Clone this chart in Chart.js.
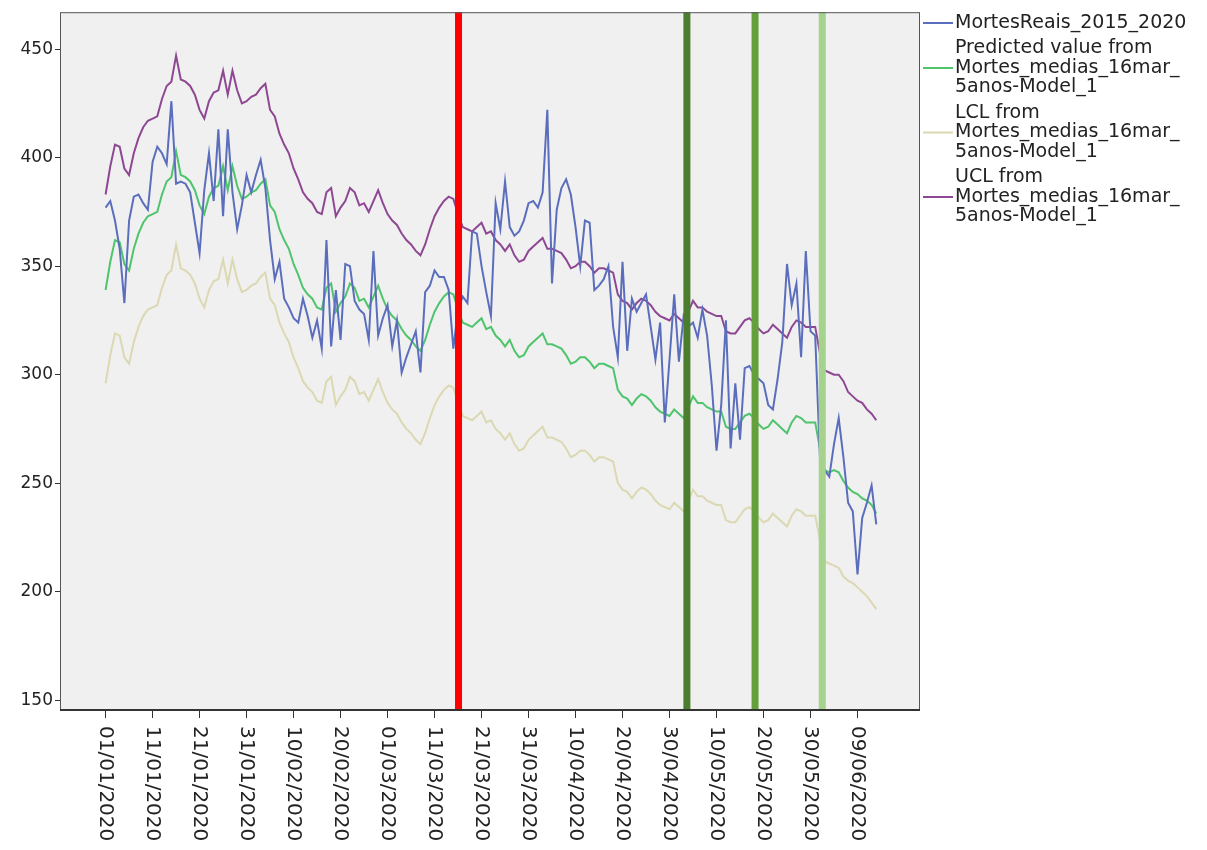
<!DOCTYPE html>
<html>
<head>
<meta charset="utf-8">
<script src="https://cdn.jsdelivr.net/npm/chart.js@4.4.0/dist/chart.umd.min.js"></script>
<style>
  body { margin: 0; background: #fff; }
  canvas { display: block; }
</style>
</head>
<body>
<canvas id="chart" width="1207" height="850"></canvas>
<script>
// daily values, day 0 = 01/01/2020
const seriesActual = [
  377, 380, 371, 358, 333, 371, 382, 383, 379, 376,
  398, 405, 402, 397, 426, 388, 389, 388, 384, 370,
  356, 385, 402, 380, 413, 373, 413, 384, 367, 378,
  392, 384, 392, 399, 386, 362, 344, 352, 335, 331,
  326, 324, 335, 327, 317, 325, 312, 362, 313, 339,
  316, 351, 350, 334, 330, 328, 316, 357, 318, 326,
  332, 313, 325, 301, 308, 314, 320, 301, 338, 341,
  348, 345, 345, 339, 312, 330, 336, 333, 366, 365,
  350, 338, 327, 379, 367, 389, 368, 364, 366, 371,
  379, 380, 377, 384, 422, 342, 376, 386, 390, 383,
  368, 350, 371, 370, 339, 341, 344, 350, 322, 308,
  352, 311, 335, 329, 333, 337, 322, 307, 324, 278,
  307, 337, 306, 327, 322, 324, 317, 330, 318, 295,
  265, 286, 325, 266, 296, 270, 303, 304, 300, 298,
  296, 286, 284, 298, 315, 351, 332, 342, 308, 357,
  320, 318, 262, 256, 253, 268, 280, 262, 241, 237,
  208, 234, 241, 249, 231
];
const seriesPredicted = [
  339, 352, 362, 361, 351, 348, 358, 365, 370, 373,
  374, 375, 383, 389, 391, 403, 392, 391, 389, 385,
  378, 374, 382, 386, 387, 396, 385, 396, 387, 381,
  382, 384, 385, 388, 390, 378, 375, 367, 362, 358,
  351, 346, 340, 337, 335, 331, 330, 340, 342, 329,
  333, 336, 342, 340, 334, 335, 331, 336, 341, 335,
  330, 327, 325, 321, 318, 316, 313, 311, 316, 323,
  329, 333, 336, 338, 337, 330, 324, 323, 322, 324,
  326, 321, 322, 318, 316, 313, 316, 311, 308, 309,
  313, 315, 317, 319, 314, 314, 313, 312, 309, 305,
  306, 308, 308, 306, 303, 305, 305, 304, 303, 293,
  290, 289, 286, 289, 291, 290, 288, 285, 283, 282,
  281, 284, 282, 280, 285, 290, 287, 287, 285, 284,
  283, 283, 276, 275, 275, 278, 281, 282, 280, 277,
  275, 276, 279, 277, 275, 273, 278, 281, 280, 278,
  278, 278, 266, 256, 255, 256, 255, 251, 248, 246,
  245, 243, 242, 240, 236
];
const seriesLCL = [
  296, 309, 319, 318, 308, 305, 315, 322, 327, 330,
  331, 332, 340, 346, 348, 360, 349, 348, 346, 342,
  335, 331, 339, 343, 344, 353, 342, 353, 344, 338,
  339, 341, 342, 345, 347, 335, 332, 324, 319, 315,
  308, 303, 297, 294, 292, 288, 287, 297, 299, 286,
  290, 293, 299, 297, 291, 292, 288, 293, 298, 292,
  287, 284, 282, 278, 275, 273, 270, 268, 273, 280,
  286, 290, 293, 295, 294, 287, 281, 280, 279, 281,
  283, 278, 279, 275, 273, 270, 273, 268, 265, 266,
  270, 272, 274, 276, 271, 271, 270, 269, 266, 262,
  263, 265, 265, 263, 260, 262, 262, 261, 260, 250,
  247, 246, 243, 246, 248, 247, 245, 242, 240, 239,
  238, 241, 239, 237, 242, 247, 244, 244, 242, 241,
  240, 240, 233, 232, 232, 235, 238, 239, 237, 234,
  232, 233, 236, 234, 232, 230, 235, 238, 237, 235,
  235, 235, 224, 214, 213, 212, 211, 207, 205, 204,
  202, 200, 198, 195, 192
];
const seriesUCL = [
  383, 396, 406, 405, 395, 392, 402, 409, 414, 417,
  418, 419, 427, 433, 435, 447, 436, 435, 433, 429,
  422, 418, 426, 430, 431, 440, 429, 440, 431, 425,
  426, 428, 429, 432, 434, 422, 419, 411, 406, 402,
  395, 390, 384, 381, 379, 375, 374, 384, 386, 373,
  377, 380, 386, 384, 378, 379, 375, 380, 385, 379,
  374, 371, 369, 365, 362, 360, 357, 355, 360, 367,
  373, 377, 380, 382, 381, 374, 368, 367, 366, 368,
  370, 365, 366, 362, 360, 357, 360, 355, 352, 353,
  357, 359, 361, 363, 358, 358, 357, 356, 353, 349,
  350, 352, 352, 350, 347, 349, 349, 348, 347, 337,
  334, 333, 330, 333, 335, 334, 332, 329, 327, 326,
  325, 328, 326, 324, 329, 334, 331, 331, 329, 328,
  327, 327, 320, 319, 319, 322, 325, 326, 324, 321,
  319, 320, 323, 321, 319, 317, 322, 325, 324, 322,
  322, 322, 310, 302, 301, 300, 300, 297, 292, 290,
  288, 287, 284, 282, 279
];

const tickDays = [0, 10, 20, 30, 40, 50, 60, 70, 80, 90, 100, 110, 120, 130, 140, 150, 160];
const tickLabels = ['01/01/2020', '11/01/2020', '21/01/2020', '31/01/2020', '10/02/2020', '20/02/2020',
  '01/03/2020', '11/03/2020', '21/03/2020', '31/03/2020', '10/04/2020', '20/04/2020', '30/04/2020',
  '10/05/2020', '20/05/2020', '30/05/2020', '09/06/2020'];
const yTicks = [150, 200, 250, 300, 350, 400, 450];

// vertical reference lines (day offset)
const refDays = [75.1, 123.7, 138.2, 152.5];
const refColors = ['#ff0000', '#4a7d2c', '#63a03c', '#a5d28c'];

const seriesNames = [
  ['MortesReais_2015_2020'],
  ['Predicted value from', 'Mortes_medias_16mar_', '5anos-Model_1'],
  ['LCL from', 'Mortes_medias_16mar_', '5anos-Model_1'],
  ['UCL from', 'Mortes_medias_16mar_', '5anos-Model_1']
];
const seriesColors = ['#5b6ebd', '#4ec46c', '#dbd8b2', '#8e4893'];
const seriesValues = [seriesActual, seriesPredicted, seriesLCL, seriesUCL];

const FONT = '"DejaVu Sans", Arial, sans-serif';

const spssLook = {
  id: 'spssLook',
  beforeDraw(chart) {
    const { ctx, chartArea: a } = chart;
    ctx.save();
    ctx.fillStyle = '#f0f0f0';
    ctx.fillRect(a.left, a.top, a.right - a.left, a.bottom - a.top);
    ctx.restore();
  },
  afterDatasetsDraw(chart) {
    const { ctx, chartArea: a } = chart;
    const xs = chart.scales.x;
    ctx.save();
    refDays.forEach((d, i) => {
      const x = xs.getPixelForValue(d);
      ctx.strokeStyle = refColors[i];
      ctx.lineWidth = 7;
      ctx.beginPath();
      ctx.moveTo(x, a.top);
      ctx.lineTo(x, a.bottom);
      ctx.stroke();
    });
    // frame
    ctx.strokeStyle = '#555';
    ctx.lineWidth = 1;
    ctx.strokeRect(a.left + 0.5, a.top + 0.5, a.right - a.left - 1, a.bottom - a.top);
    ctx.lineWidth = 2;
    ctx.strokeStyle = '#333';
    ctx.beginPath();
    ctx.moveTo(a.left, a.bottom);
    ctx.lineTo(a.right, a.bottom);
    ctx.stroke();
    ctx.restore();
  },
  afterDraw(chart) {
    const { ctx, chartArea: a } = chart;
    const xs = chart.scales.x;
    ctx.save();
    // rotated date labels, reading downwards
    ctx.fillStyle = '#222';
    ctx.font = '20px ' + FONT;
    ctx.textAlign = 'left';
    ctx.textBaseline = 'middle';
    tickDays.forEach((d, i) => {
      const x = xs.getPixelForValue(d);
      ctx.save();
      ctx.translate(x, a.bottom + 16);
      ctx.rotate(Math.PI / 2);
      ctx.fillText(tickLabels[i], 0, 0);
      ctx.restore();
    });
    // legend
    ctx.font = '19px ' + FONT;
    const lineH = 19.5, gap = 6;
    let y = 23;
    seriesNames.forEach((lines, i) => {
      const mid = y + (lines.length - 1) * lineH / 2;
      ctx.strokeStyle = seriesColors[i];
      ctx.lineWidth = 2;
      ctx.beginPath();
      ctx.moveTo(a.right + 3, mid);
      ctx.lineTo(a.right + 33, mid);
      ctx.stroke();
      lines.forEach((t, k) => ctx.fillText(t, a.right + 35, y + k * lineH));
      y += lines.length * lineH + gap;
    });
    ctx.restore();
  }
};

new Chart(document.getElementById('chart'), {
  type: 'line',
  data: {
    datasets: seriesValues.map((vals, i) => ({
      label: seriesNames[i].join(' '),
      data: vals.map((v, d) => ({ x: d, y: v })),
      borderColor: seriesColors[i],
      borderWidth: 2,
      pointRadius: 0,
      tension: 0,
      fill: false
    }))
  },
  options: {
    responsive: false,
    animation: false,
    layout: { padding: { top: 8, right: 287, left: 0, bottom: 0 } },
    plugins: { legend: { display: false }, tooltip: { enabled: false } },
    scales: {
      x: {
        type: 'linear',
        min: -9.7,
        max: 173.3,
        afterBuildTicks: s => { s.ticks = tickDays.map(v => ({ value: v })); },
        afterFit: s => { s.height = 140; },
        ticks: { display: false },
        grid: { drawOnChartArea: false, tickLength: 8, color: '#333' },
        border: { display: false }
      },
      y: {
        min: 145.5,
        max: 467,
        afterBuildTicks: s => { s.ticks = yTicks.map(v => ({ value: v })); },
        afterFit: s => { s.width = 60; },
        ticks: { color: '#222', font: { family: FONT, size: 17 }, padding: 2 },
        grid: { drawOnChartArea: false, tickLength: 5, color: '#333' },
        border: { display: false }
      }
    }
  },
  plugins: [spssLook]
});
</script>
</body>
</html>
